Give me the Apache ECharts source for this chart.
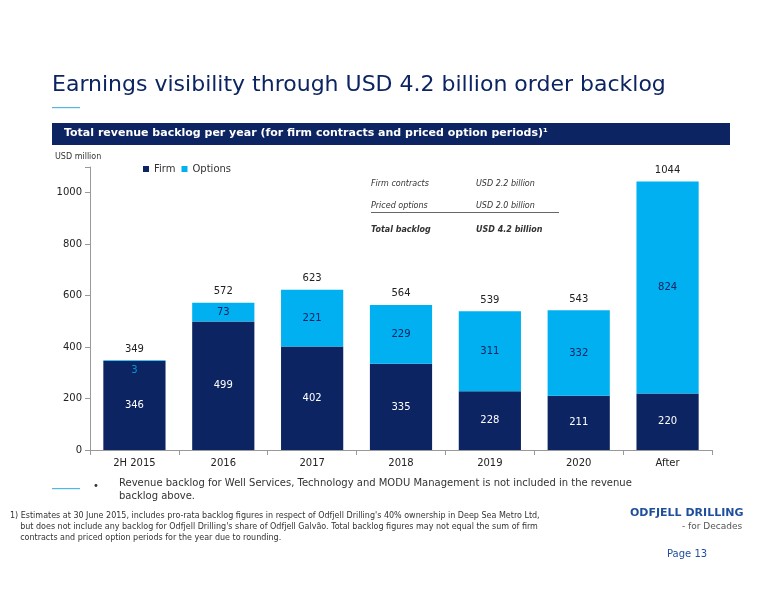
<!DOCTYPE html><html><head><meta charset="utf-8"><script src="https://cdn.jsdelivr.net/npm/echarts@6/dist/echarts.min.js"></script>
<style>body{margin:0}#c{width:776px;height:600px}</style></head><body><div id="c"></div><script>
const categories=['2H 2015','2016','2017','2018','2019','2020','After'];
const firm=[346,499,402,335,228,211,220];
const options=[3,73,221,229,311,332,824];
const totals=[349,572,623,564,539,543,1044];
const yTicks=[0,200,400,600,800,1000];
const F='Verdana, "DejaVu Sans", sans-serif';
const ch=echarts.init(document.getElementById('c'));
const navy='#0c2461', cyan='#00b0f0';
ch.setOption({animation:false,
graphic:[
{type:'text',left:52,top:74,style:{text:'Earnings visibility through USD 4.2 billion order backlog',font:'22px '+F,fill:'#0c2461'}},
{type:'rect',shape:{x:52,y:107,width:28,height:1.2},style:{fill:'#4fb8e6'}},
{type:'rect',shape:{x:52,y:123,width:678,height:22},style:{fill:navy}},
{type:'text',left:64,top:128,style:{text:'Total revenue backlog per year (for firm contracts and priced option periods)¹',font:'bold 11px '+F,fill:'#fff'}},
{type:'text',left:55,top:153,style:{text:'USD million',font:'8px '+F,fill:'#333'}},
{type:'text',left:371,top:180,style:{text:'Firm contracts',font:'italic 8px '+F,fill:'#333'}},
{type:'text',left:476,top:180,style:{text:'USD 2.2 billion',font:'italic 8px '+F,fill:'#333'}},
{type:'text',left:371,top:202,style:{text:'Priced options',font:'italic 8px '+F,fill:'#333'}},
{type:'text',left:476,top:202,style:{text:'USD 2.0 billion',font:'italic 8px '+F,fill:'#333'}},
{type:'rect',shape:{x:371,y:212,width:188,height:0.8},style:{fill:'#333'}},
{type:'text',left:371,top:226,style:{text:'Total backlog',font:'bold italic 8px '+F,fill:'#333'}},
{type:'text',left:476,top:226,style:{text:'USD 4.2 billion',font:'bold italic 8px '+F,fill:'#333'}},
{type:'rect',shape:{x:52,y:488,width:28,height:1.2},style:{fill:'#4fb8e6'}},
{type:'text',left:93,top:481,style:{text:'•',font:'10px '+F,fill:'#333'}},
{type:'text',left:119,top:477,style:{text:'Revenue backlog for Well Services, Technology and MODU Management is not included in the revenue\nbacklog above.',font:'10px '+F,fill:'#333',lineHeight:13}},
{type:'text',left:10,top:510,style:{text:'1) Estimates at 30 June 2015, includes pro-rata backlog figures in respect of Odfjell Drilling\'s 40% ownership in Deep Sea Metro Ltd,\n    but does not include any backlog for Odfjell Drilling\'s share of Odfjell Galvão. Total backlog figures may not equal the sum of firm\n    contracts and priced option periods for the year due to rounding.',font:'8px '+F,fill:'#333',lineHeight:11}},
{type:'text',left:630,top:508,style:{text:'ODFJELL DRILLING',font:'bold 11px '+F,fill:'#1f4e9c'}},
{type:'text',left:682,top:522,style:{text:'- for Decades',font:'9px '+F,fill:'#555'}},
{type:'text',left:667,top:549,style:{text:'Page 13',font:'10px '+F,fill:'#1f4e9c'}}
],
legend:{left:138,top:159,icon:'rect',itemWidth:6,itemHeight:6,itemGap:6,textStyle:{fontSize:10,fontFamily:F,color:'#333'},data:['Firm','Options']},
grid:{left:90,right:64,top:167,bottom:150},
xAxis:{type:'category',data:categories,axisLine:{lineStyle:{color:'#999'}},axisTick:{show:true,lineStyle:{color:'#999'}},axisLabel:{fontSize:10,fontFamily:F,color:'#222'}},
yAxis:{type:'value',min:0,max:1100,interval:200,splitLine:{show:false},axisLine:{show:true,lineStyle:{color:'#999'}},axisTick:{show:true,lineStyle:{color:'#999'}},
 axisLabel:{fontSize:10,fontFamily:F,color:'#222',formatter:v=>yTicks.includes(v)?v:''}},
series:[
{name:'Firm',type:'bar',stack:'a',barWidth:'70%',data:firm,itemStyle:{color:navy},label:{show:true,position:'inside',color:'#fff',fontSize:10,fontFamily:F}},
{name:'Options',type:'bar',stack:'a',data:options.map((v,i)=>i==0?{value:v,label:{show:false}}:v),itemStyle:{color:cyan},label:{show:true,position:'inside',color:'#0c2461',fontSize:10,fontFamily:F}},
{name:'Total',type:'bar',stack:'a',data:totals.map(()=>0),itemStyle:{color:'transparent'},label:{show:true,position:'top',distance:6,color:'#222',fontSize:10,fontFamily:F,formatter:p=>totals[p.dataIndex]}},
{name:'smallOpt',type:'scatter',symbolSize:0,data:[[categories[0],firm[0]]],silent:true,label:{show:true,position:'bottom',distance:4,color:cyan,fontSize:10,fontFamily:F,formatter:()=>options[0]}}
]});
</script></body></html>
